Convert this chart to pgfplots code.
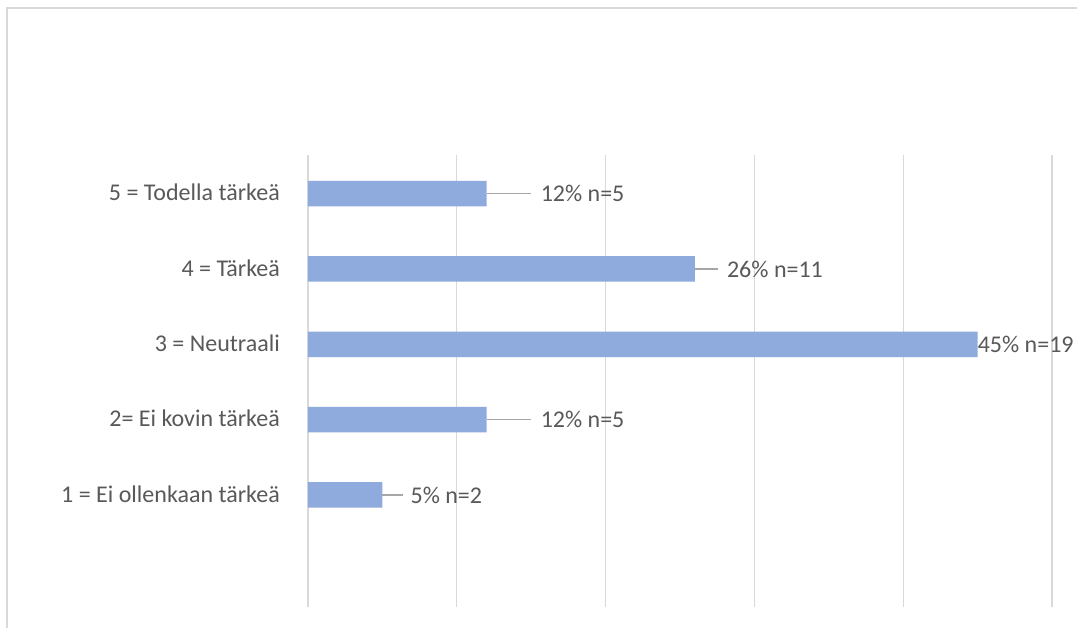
\documentclass[border=0pt]{standalone}
\usepackage{fontspec}
\setmainfont{Carlito}
\usepackage{pgfplots}
\pgfplotsset{compat=1.18}
\definecolor{barblue}{RGB}{143,170,220}
\definecolor{txtgray}{RGB}{89,89,89}
\definecolor{gridgray}{RGB}{217,217,217}
\definecolor{leadgray}{RGB}{166,166,166}
\definecolor{framegray}{RGB}{217,217,217}
\begin{document}
\fontsize{24pt}{28pt}\selectfont
\begin{tikzpicture}
\useasboundingbox (0,0) rectangle (1077pt,628pt);
\fill[white] (0,0) rectangle (1077pt,628pt);
\draw[framegray,line width=1.5pt] (7pt,0) -- (7pt,620pt) -- (1077pt,620pt);
\begin{axis}[
  at={(308pt,21pt)}, anchor=south west,
  scale only axis, width=744pt, height=452pt,
  xmin=0, xmax=50, ymin=-1.5, ymax=4.5,
  xbar, bar width=25.5pt,
  axis line style={draw=none},
  xtick={0,10,20,30,40,50}, xticklabels={},
  xmajorgrids, major grid style={gridgray, line width=1.2pt},
  ytick={0,1,2,3,4},
  yticklabels={1 = Ei ollenkaan tärkeä, 2= Ei kovin tärkeä, 3 = Neutraali, 4 = Tärkeä, 5 = Todella tärkeä},
  major tick length=0pt,
  yticklabel style={font=\fontsize{24pt}{28pt}\selectfont, text=txtgray, anchor=east, xshift=-20pt},
  clip=false,
]
\addplot[fill=barblue, draw=none, bar shift=-1pt] coordinates {(5,0) (12,1) (45,2) (26,3) (12,4)};
% leader lines
\draw[leadgray, line width=1.2pt] ([yshift=-1pt]axis cs:12,4) -- ([xshift=44pt,yshift=-1pt]axis cs:12,4);
\draw[leadgray, line width=1.2pt] ([yshift=-1pt]axis cs:26,3) -- ([xshift=23pt,yshift=-1pt]axis cs:26,3);
\draw[leadgray, line width=1.2pt] ([yshift=-1pt]axis cs:12,1) -- ([xshift=44pt,yshift=-1pt]axis cs:12,1);
\draw[leadgray, line width=1.2pt] ([yshift=-1pt]axis cs:5,0) -- ([xshift=21pt,yshift=-1pt]axis cs:5,0);
\begin{scope}[every node/.style={text=txtgray, anchor=west, inner sep=0pt, font=\fontsize{24pt}{28pt}\selectfont}]
\node at ([xshift=54pt,yshift=-1pt]axis cs:12,4) {12\% n=5};
\node at ([xshift=32pt,yshift=-1pt]axis cs:26,3) {26\% n=11};
\node at ([xshift=0pt,yshift=-1pt]axis cs:45,2) {45\% n=19};
\node at ([xshift=54pt,yshift=-1pt]axis cs:12,1) {12\% n=5};
\node at ([xshift=28pt,yshift=-1pt]axis cs:5,0) {5\% n=2};
\end{scope}
\end{axis}
\end{tikzpicture}
\end{document}
